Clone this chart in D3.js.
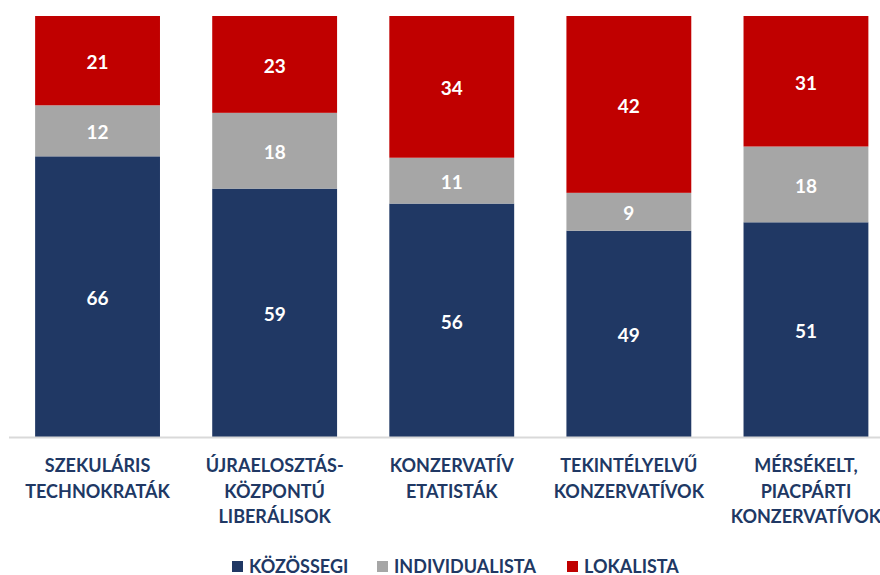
<!DOCTYPE html>
<html>
<head>
<meta charset="utf-8">
<script src="https://cdn.jsdelivr.net/npm/d3@7"></script>
<style>
  body { margin: 0; background: #fff; }
  text { font-family: Lato, "Open Sans", sans-serif; font-weight: bold; }
</style>
</head>
<body>
<script>
// Data
var categories = ["SZEKULÁRIS TECHNOKRATÁK", "ÚJRAELOSZTÁS- KÖZPONTÚ LIBERÁLISOK",
  "KONZERVATÍV ETATISTÁK", "TEKINTÉLYELVŰ KONZERVATÍVOK", "MÉRSÉKELT, PIACPÁRTI KONZERVATÍVOK"];
var categoryLines = [
  ["SZEKULÁRIS", "TECHNOKRATÁK"],
  ["ÚJRAELOSZTÁS-", "KÖZPONTÚ", "LIBERÁLISOK"],
  ["KONZERVATÍV", "ETATISTÁK"],
  ["TEKINTÉLYELVŰ", "KONZERVATÍVOK"],
  ["MÉRSÉKELT,", "PIACPÁRTI", "KONZERVATÍVOK"]
];
var seriesNames = ["KÖZÖSSEGI", "INDIVIDUALISTA", "LOKALISTA"];
var kozossegi = [66, 59, 56, 49, 51];
var individualista = [12, 18, 11, 9, 18];
var lokalista = [21, 23, 34, 42, 31];
var colors = ["#203864", "#A6A6A6", "#C00000"];

var width = 880, height = 575;
var svg = d3.select("body").append("svg")
  .attr("width", width).attr("height", height);

var rows = categories.map(function(c, i) {
  return { cat: c, "KÖZÖSSEGI": kozossegi[i], "INDIVIDUALISTA": individualista[i], "LOKALISTA": lokalista[i] };
});
var stacked = d3.stack().keys(seriesNames).offset(d3.stackOffsetExpand)(rows);

var x = d3.scaleBand().domain(categories).range([9, 894.5]).paddingInner(0.295).paddingOuter(0.1475);
var y = d3.scaleLinear().domain([0, 1]).range([437, 16]);

// bars
var layer = svg.selectAll("g.layer").data(stacked).enter().append("g")
  .attr("class", "layer").attr("fill", function(d, i) { return colors[i]; });

layer.selectAll("rect").data(function(d) { return d; }).enter().append("rect")
  .attr("x", function(d) { return x(d.data.cat); })
  .attr("width", x.bandwidth())
  .attr("y", function(d) { return y(d[1]); })
  .attr("height", function(d) { return y(d[0]) - y(d[1]); });

// value labels
layer.each(function(s) {
  d3.select(this).selectAll("text").data(s).enter().append("text")
    .attr("x", function(d) { return x(d.data.cat) + x.bandwidth() / 2; })
    .attr("y", function(d) { return (y(d[0]) + y(d[1])) / 2; })
    .attr("dy", "0.45em")
    .attr("text-anchor", "middle")
    .attr("fill", "#fff")
    .style("font-size", "19px")
    .text(function(d) { return d.data[s.key]; });
});

// axis line
svg.append("line")
  .attr("x1", 9).attr("x2", width)
  .attr("y1", 437.5).attr("y2", 437.5)
  .attr("stroke", "#D9D9D9").attr("stroke-width", 2);

// category labels
categories.forEach(function(c, i) {
  var t = svg.append("text")
    .attr("x", x(c) + x.bandwidth() / 2)
    .attr("y", 472)
    .attr("text-anchor", "middle")
    .attr("fill", "#203864")
    .style("font-size", "18px");
  categoryLines[i].forEach(function(line, j) {
    t.append("tspan").attr("x", x(c) + x.bandwidth() / 2)
      .attr("dy", j === 0 ? 0 : 25.5).text(line);
  });
});

// legend
var legendX = [232, 377, 567];
seriesNames.forEach(function(s, i) {
  var g = svg.append("g").attr("transform", "translate(" + legendX[i] + ",561)");
  g.append("rect").attr("width", 11).attr("height", 11).attr("fill", colors[i]);
  g.append("text").attr("x", 17).attr("y", 11.5)
    .attr("fill", "#203864").style("font-size", "18px").text(s);
});
</script>
</body>
</html>
